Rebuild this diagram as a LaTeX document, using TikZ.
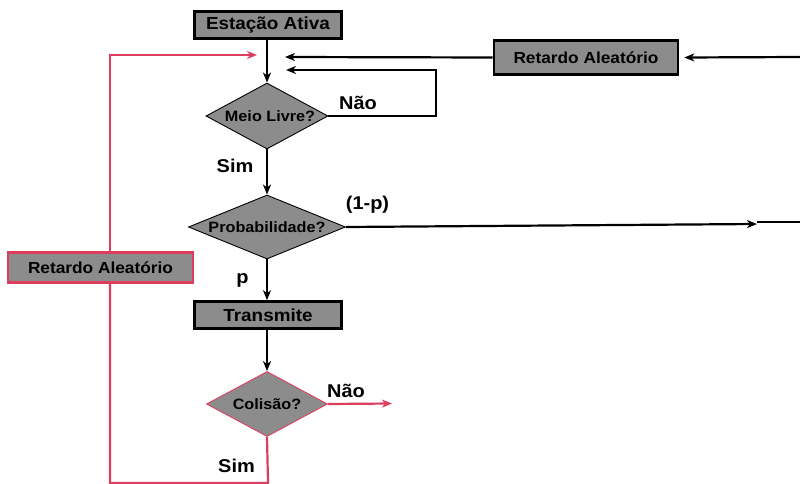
\documentclass[tikz,border=0pt]{standalone}
\usepackage{fontspec}
\setmainfont{Liberation Sans}[FakeStretch=1.08]
\usetikzlibrary{shapes.geometric,arrows.meta}
\definecolor{boxgray}{RGB}{140,140,140}
\definecolor{loopred}{RGB}{222,62,94}
\tikzset{
  x=1pt, y=-1pt,
  every node/.style={font=\bfseries},
  stepbox/.style={draw=black, line width=2.6pt, fill=boxgray, inner sep=0pt,
    minimum width=147pt, minimum height=27pt, font=\fontsize{17.5}{17.5}\bfseries},
  delaybox/.style={draw=black, line width=2.6pt, fill=boxgray, inner sep=0pt,
    minimum width=184pt, minimum height=34pt, font=\fontsize{16}{16}\bfseries},
  decision/.style={diamond, draw=black, line width=0.9pt, fill=boxgray, inner sep=0pt,
    font=\fontsize{15}{15}\bfseries},
  flow/.style={draw=black, line width=2.2pt, -{Stealth[length=10pt,width=8pt,inset=3pt]}},
  plain/.style={draw=black, line width=2.2pt},
  redflow/.style={draw=loopred, line width=2.2pt, -{Stealth[length=10pt,width=8pt,inset=3pt]}},
  redline/.style={draw=loopred, line width=2.2pt},
  tag/.style={font=\fontsize{18.5}{18.5}\bfseries, inner sep=0pt},
}
\begin{document}
\begin{tikzpicture}
\useasboundingbox (0,0) rectangle (800,484);

% main column
\node[stepbox] (ativa) at (268,25) {Estação Ativa};
\node[decision, minimum width=122pt, minimum height=66pt] (meio) at (267,116)
  {\makebox[0pt]{\hspace{6pt}Meio Livre?}};
\node[decision, minimum width=157pt, minimum height=64pt] (prob) at (267,227)
  {\makebox[0pt]{Probabilidade?}};
\node[stepbox] (trans) at (268,315) {Transmite};
\node[decision, draw=loopred, minimum width=121pt, minimum height=65pt] (col) at (267,404)
  {\makebox[0pt]{Colisão?}};

% delay boxes
\node[delaybox] (retR) at (586,57.5) {Retardo Aleatório};
\node[delaybox, draw=loopred, minimum width=185pt, minimum height=30pt] (retL) at (100.5,267.5)
  {Retardo Aleatório};

% free ends
\coordinate (inA) at (285,57);
\coordinate (inB) at (286,70);
\coordinate (inC) at (257,55);
\coordinate (loopNE) at (436,116);
\coordinate (probEnd) at (757,224);
\coordinate (edgeR) at (800,57);
\coordinate (colNo) at (392,403.5);
\coordinate (botR) at (268,483);
\coordinate (botL) at (110,483);
\coordinate (topL) at (110,55);

% black connectors
\draw[flow] (ativa.south -| meio.north) -- (meio.north);
\draw[flow] (retR.west) -- (inA);
\draw[flow] (meio.east) -- (loopNE) -- (loopNE |- inB) -- (inB);
\draw[flow] (meio.south) -- (prob.north);
\draw[flow] (prob.east) -- (probEnd);
\draw[plain, line width=2.6pt] (757,222) -- (800,222);
\draw[flow] (edgeR) -- ([xshift=5pt]retR.east);
\draw[flow] (prob.south) -- (trans.north -| prob.south);
\draw[flow] (trans.south -| col.north) -- (col.north);

% red collision branch
\draw[redflow] (col.east) -- (colNo);
\draw[redline] (col.south) -- (botR) -- (botL) -- (retL.south -| botL);
\draw[redflow] (retL.north -| topL) -- (topL) -- (inC);

% labels
\node[tag] (lNao1) at (358,103) {Não};
\node[tag] (lSim1) at (235,166) {Sim};
\node[tag] (l1p) at (367.5,205) {(1-p)};
\node[tag] (lp) at (242.5,280) {p};
\node[tag] (lNao2) at (346,391) {Não};
\node[tag] (lSim2) at (236.5,466) {Sim};
\end{tikzpicture}
\end{document}
